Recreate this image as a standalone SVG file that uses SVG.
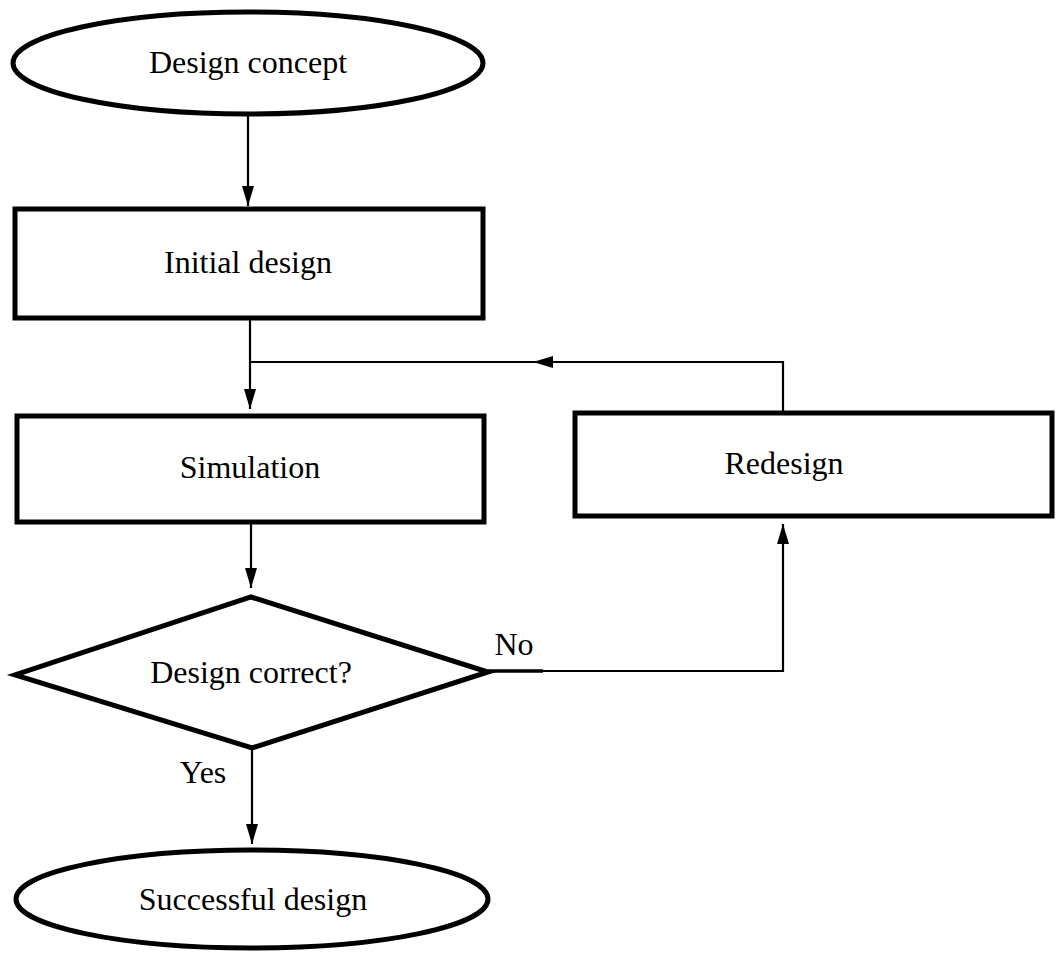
<svg xmlns="http://www.w3.org/2000/svg" width="1056" height="953" viewBox="0 0 1056 953">
<style>
.shape{fill:#fff;stroke:#000;stroke-width:5}
.lbl{font-family:"Liberation Serif","Times New Roman",serif;font-size:32px;fill:#000;text-anchor:middle}
.edge{fill:none;stroke:#000;stroke-width:2.2}
</style>
<defs>
<marker id="ah" markerUnits="userSpaceOnUse" markerWidth="20" markerHeight="12" refX="20" refY="6" orient="auto">
<path d="M0,0 L20,6 L0,12 z" fill="#000"/>
</marker>
</defs>
<rect width="1056" height="953" fill="#fff"/>
<g id="connectors">
<path class="edge" d="M248,115 L248,206" marker-end="url(#ah)"/>
<path class="edge" d="M250,320 L250,409" marker-end="url(#ah)"/>
<path class="edge" d="M783,413 L783,362 L250,362"/>
<path class="edge" d="M700,362 L533,362" marker-end="url(#ah)"/>
<path class="edge" d="M251,522 L251,588" marker-end="url(#ah)"/>
<path class="edge" d="M488,671 L783,671 L783,524" marker-end="url(#ah)"/>
<path class="edge" d="M488,671 L543,671" style="stroke-width:3.5"/>
<path class="edge" d="M252,748 L252,844" marker-end="url(#ah)"/>
<text class="lbl" x="514" y="655">No</text>
<text class="lbl" x="203" y="783">Yes</text>
</g>
<g id="design-concept">
<ellipse class="shape" cx="248" cy="63" rx="235" ry="51"/>
<text class="lbl" x="248" y="73">Design concept</text>
</g>
<g id="initial-design">
<rect class="shape" x="15" y="209" width="468" height="109"/>
<text class="lbl" x="248" y="273">Initial design</text>
</g>
<g id="simulation">
<rect class="shape" x="17" y="416" width="467" height="106"/>
<text class="lbl" x="250" y="478">Simulation</text>
</g>
<g id="redesign">
<rect class="shape" x="575" y="413" width="477" height="103"/>
<text class="lbl" x="784" y="474">Redesign</text>
</g>
<g id="design-correct">
<polygon class="shape" points="251,597 488,672 252,748 15,675"/>
<text class="lbl" x="251" y="683">Design correct?</text>
</g>
<g id="successful-design">
<ellipse class="shape" cx="252" cy="899" rx="236" ry="49"/>
<text class="lbl" x="253" y="910">Successful design</text>
</g>
</svg>
